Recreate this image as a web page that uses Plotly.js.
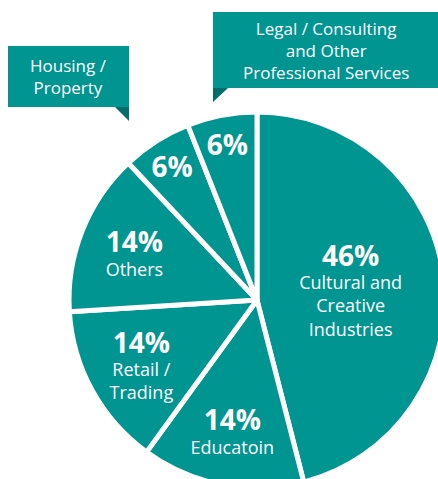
<!DOCTYPE html>
<html>
<head>
<meta charset="utf-8">
<script src="https://cdn.plot.ly/plotly-3.0.1.min.js"></script>
<style>
  html, body { margin: 0; padding: 0; overflow: hidden; background: #fff; width: 438px; height: 479px; }
  #chart { width: 520px; height: 600px; }
</style>
</head>
<body>
<div id="chart"></div>
<script>
// ---- data ----
const categories = [
  "Cultural and Creative Industries",
  "Educatoin",
  "Retail / Trading",
  "Others",
  "Housing / Property",
  "Legal / Consulting and Other Professional Services"
];
const shares = [46, 14, 14, 14, 6, 6];
const sliceLabels = ["Cultural and<br>Creative<br>Industries", "Educatoin", "Retail /<br>Trading", "Others", "", ""];
const calloutLabels = ["Housing /<br>Property", "Legal / Consulting<br>and Other<br>Professional Services"];

// ---- style ----
const TEAL = "#009591";
const DARK = "#006e6b";
const FONT = "Open Sans, Noto Sans, sans-serif";
const W = 520, H = 600;
const px = x => x / W;
const py = y => 1 - y / H;

const templates = sliceLabels.map(t => t
  ? "<span style='font-size:28px'><b>%{value}%</b></span><br>%{text}"
  : "<span style='font-size:28px'><b>%{value}%</b></span>");

const trace = {
  type: "pie",
  labels: categories,
  values: shares,
  text: sliceLabels,
  texttemplate: templates,
  textposition: "inside",
  insidetextorientation: "horizontal",
  insidetextfont: { family: FONT, size: 18, color: "#ffffff" },
  sort: false,
  direction: "clockwise",
  rotation: 0,
  marker: { colors: shares.map(() => TEAL), line: { color: "#ffffff", width: 5 } },
  hoverinfo: "label+percent",
  showlegend: false,
  domain: { x: [px(69), px(445)], y: [py(488), py(112)] }
};

const shapes = [
  // Housing callout box + pointer
  { type: "rect", xref: "paper", yref: "paper", x0: px(8), x1: px(129), y0: py(107), y1: py(46),
    fillcolor: TEAL, line: { width: 0 } },
  { type: "path", xref: "paper", yref: "paper",
    path: `M ${px(115)} ${py(107)} L ${px(129)} ${py(107)} L ${px(129)} ${py(121)} Z`,
    fillcolor: DARK, line: { width: 0 } },
  // Legal callout box + pointer
  { type: "rect", xref: "paper", yref: "paper", x0: px(213), x1: px(440), y0: py(88), y1: py(12),
    fillcolor: TEAL, line: { width: 0 } },
  { type: "path", xref: "paper", yref: "paper",
    path: `M ${px(213)} ${py(88)} L ${px(228)} ${py(88)} L ${px(213)} ${py(102)} Z`,
    fillcolor: DARK, line: { width: 0 } }
];

const annotations = [
  { xref: "paper", yref: "paper", x: px(68), y: py(76), text: calloutLabels[0], showarrow: false,
    font: { family: FONT, size: 17, color: "#ffffff" }, align: "center", xanchor: "center", yanchor: "middle" },
  { xref: "paper", yref: "paper", x: px(326), y: py(50), text: calloutLabels[1], showarrow: false,
    font: { family: FONT, size: 17, color: "#ffffff" }, align: "center", xanchor: "center", yanchor: "middle" }
];

const layout = {
  width: W, height: H,
  margin: { l: 0, r: 0, t: 0, b: 0 },
  paper_bgcolor: "#ffffff",
  shapes, annotations,
  font: { family: FONT }
};

Plotly.newPlot("chart", [trace], layout, { displayModeBar: false, staticPlot: true });
</script>
</body>
</html>
